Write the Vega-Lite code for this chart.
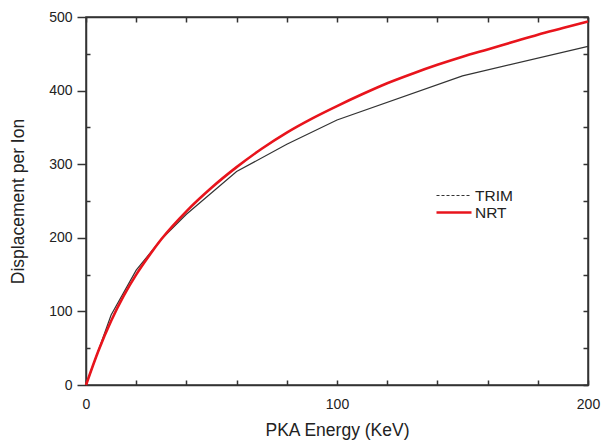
{
  "$schema": "https://vega.github.io/schema/vega-lite/v6.json",
  "width": 502,
  "height": 368,
  "autosize": "none",
  "padding": {"left": 86, "top": 17, "right": 14, "bottom": 55},
  "background": "white",
  "config": {
    "font": "Liberation Sans",
    "view": {"stroke": "#333333", "strokeWidth": 1.5},
    "axis": {
      "domainColor": "#333333",
      "domainWidth": 1.5,
      "tickColor": "#333333",
      "tickWidth": 1.5,
      "grid": false,
      "labelFont": "Liberation Sans",
      "labelFontSize": 14,
      "labelColor": "#222222",
      "titleFont": "Liberation Sans",
      "titleFontSize": 17.5,
      "titleFontWeight": "normal",
      "titleColor": "#222222"
    }
  },
  "data": {
    "values": [
      {"series": "TRIM", "energy": 0, "disp": 0},
      {"series": "TRIM", "energy": 10, "disp": 95},
      {"series": "TRIM", "energy": 20, "disp": 156},
      {"series": "TRIM", "energy": 30, "disp": 198},
      {"series": "TRIM", "energy": 40, "disp": 232},
      {"series": "TRIM", "energy": 60, "disp": 290},
      {"series": "TRIM", "energy": 80, "disp": 327},
      {"series": "TRIM", "energy": 100, "disp": 360},
      {"series": "TRIM", "energy": 150, "disp": 420},
      {"series": "TRIM", "energy": 200, "disp": 460},
      {"series": "NRT", "energy": 0, "disp": 0},
      {"series": "NRT", "energy": 5, "disp": 47},
      {"series": "NRT", "energy": 10, "disp": 87},
      {"series": "NRT", "energy": 15, "disp": 121},
      {"series": "NRT", "energy": 20, "disp": 150},
      {"series": "NRT", "energy": 25, "disp": 175},
      {"series": "NRT", "energy": 30, "disp": 198},
      {"series": "NRT", "energy": 40, "disp": 236},
      {"series": "NRT", "energy": 50, "disp": 268},
      {"series": "NRT", "energy": 60, "disp": 296},
      {"series": "NRT", "energy": 70, "disp": 321},
      {"series": "NRT", "energy": 80, "disp": 343},
      {"series": "NRT", "energy": 90, "disp": 362},
      {"series": "NRT", "energy": 100, "disp": 379},
      {"series": "NRT", "energy": 110, "disp": 395},
      {"series": "NRT", "energy": 120, "disp": 410},
      {"series": "NRT", "energy": 130, "disp": 423},
      {"series": "NRT", "energy": 140, "disp": 435},
      {"series": "NRT", "energy": 150, "disp": 446},
      {"series": "NRT", "energy": 160, "disp": 456},
      {"series": "NRT", "energy": 170, "disp": 466},
      {"series": "NRT", "energy": 180, "disp": 476},
      {"series": "NRT", "energy": 190, "disp": 485},
      {"series": "NRT", "energy": 200, "disp": 494}
    ]
  },
  "layer": [
    {
      "transform": [{"filter": "datum.series === 'TRIM'"}],
      "mark": {"type": "line", "interpolate": "linear"},
      "encoding": {
        "x": {
          "field": "energy", "type": "quantitative",
          "scale": {"domain": [0, 200], "nice": false},
          "axis": {
            "orient": "bottom",
            "title": "PKA Energy (KeV)",
            "values": [0, 20, 40, 60, 80, 100, 120, 140, 160, 180, 200],
            "labelExpr": "datum.value % 100 === 0 ? datum.label : ''",
            "tickSize": -5,
            "labelPadding": 17,
            "titlePadding": 10,
            "labelFlush": false
          }
        },
        "y": {
          "field": "disp", "type": "quantitative",
          "scale": {"domain": [0, 500], "nice": false},
          "axis": {
            "orient": "left",
            "title": "Displacement per Ion",
            "values": [0, 50, 100, 150, 200, 250, 300, 350, 400, 450, 500],
            "labelExpr": "datum.value % 100 === 0 ? datum.label : ''",
            "tickSize": {"condition": {"test": "datum.value % 100 === 0", "value": 9}, "value": -4},
            "labelPadding": 5,
            "titlePadding": 21
          }
        },
        "color": {
          "field": "series", "type": "nominal",
          "scale": {"domain": ["TRIM", "NRT"], "range": ["#333333", "#e8141c"]},
          "legend": {
            "title": null,
            "orient": "none",
            "legendX": 349,
            "legendY": 170,
            "symbolType": "stroke",
            "symbolSize": 1225,
            "clipHeight": 17,
            "labelFontSize": 15.5,
            "labelFont": "Liberation Sans",
            "labelColor": "#222222",
            "labelOffset": 2,
            "rowPadding": 0,
            "encode": {
              "symbols": {"update": {
                "strokeDash": {"signal": "datum.value === 'TRIM' ? [3, 2] : []"}
              }}
            }
          }
        },
        "strokeWidth": {
          "field": "series", "type": "nominal",
          "scale": {"domain": ["TRIM", "NRT"], "range": [1.2, 2.6]},
          "legend": null
        }
      }
    },
    {
      "transform": [{"filter": "datum.series === 'NRT'"}],
      "mark": {"type": "line", "interpolate": "monotone"},
      "encoding": {
        "x": {"field": "energy", "type": "quantitative", "axis": null},
        "y": {"field": "disp", "type": "quantitative", "axis": null},
        "color": {"field": "series", "type": "nominal"},
        "strokeWidth": {"field": "series", "type": "nominal", "legend": null}
      }
    },
    {
      "mark": {"type": "line", "opacity": 0},
      "encoding": {
        "x": {
          "field": "energy", "type": "quantitative",
          "axis": {
            "orient": "top", "title": null, "labels": false,
            "values": [0, 20, 40, 60, 80, 100, 120, 140, 160, 180, 200],
            "tickSize": -5
          }
        },
        "y": {
          "field": "disp", "type": "quantitative",
          "axis": {
            "orient": "right", "title": null, "labels": false,
            "values": [0, 50, 100, 150, 200, 250, 300, 350, 400, 450, 500],
            "tickSize": -5
          }
        },
        "detail": {"field": "series", "type": "nominal"}
      }
    }
  ],
  "resolve": {"axis": {"x": "independent", "y": "independent"}}
}
